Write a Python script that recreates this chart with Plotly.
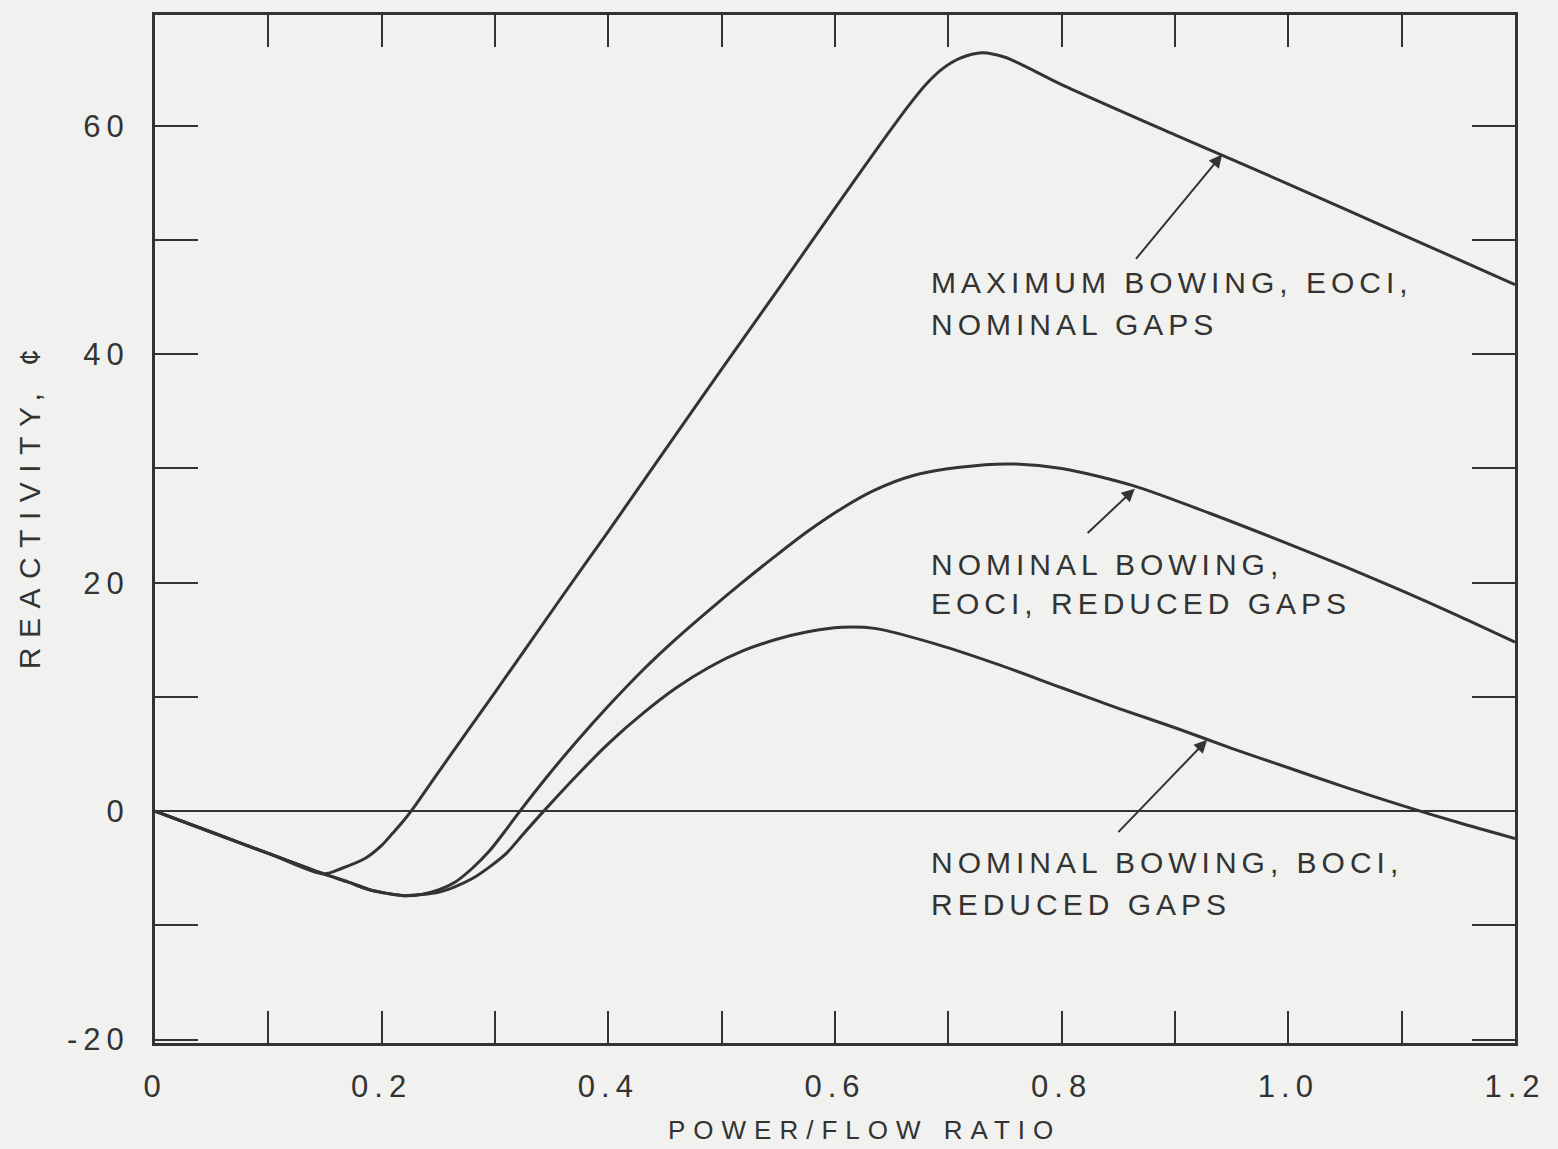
import plotly.graph_objects as go

# ---- data ----
max_bow_x = [0, 0.05, 0.10, 0.149, 0.165, 0.186, 0.20, 0.21, 0.218, 0.226, 0.25, 0.30, 0.36,
             0.40, 0.45, 0.50, 0.55, 0.60, 0.64, 0.666, 0.68, 0.695, 0.71, 0.73, 0.75, 0.77,
             0.80, 0.90, 1.00, 1.10, 1.20]
max_bow_y = [0, -1.85, -3.7, -5.5, -5.0, -4.1, -3.0, -1.9, -1.0, 0, 3.4, 10.4, 18.9,
             24.5, 31.6, 38.7, 45.7, 52.8, 58.4, 61.9, 63.6, 65.0, 65.9, 66.4, 66.0, 65.1,
             63.6, 59.2, 54.9, 50.5, 46.1]

eoci_x = [0, 0.05, 0.10, 0.149, 0.17, 0.19, 0.205, 0.22, 0.235, 0.25, 0.265, 0.28, 0.295, 0.31,
          0.322, 0.345, 0.372, 0.40, 0.431, 0.46, 0.489, 0.518, 0.547, 0.576, 0.606, 0.635,
          0.67, 0.71, 0.752, 0.80, 0.863, 0.93, 1.00, 1.05, 1.10, 1.15, 1.20]
eoci_y = [0, -1.85, -3.7, -5.5, -6.2, -6.9, -7.2, -7.4, -7.3, -6.9, -6.2, -5.0, -3.5, -1.6,
          0, 2.9, 6.1, 9.2, 12.4, 15.1, 17.6, 20.0, 22.3, 24.5, 26.5, 28.1,
          29.4, 30.1, 30.4, 30.0, 28.5, 26.1, 23.4, 21.4, 19.3, 17.1, 14.8]

boci_x = [0, 0.05, 0.10, 0.149, 0.17, 0.19, 0.205, 0.22, 0.235, 0.25, 0.265, 0.28, 0.295, 0.31,
          0.325, 0.343, 0.372, 0.401, 0.431, 0.46, 0.489, 0.518, 0.547, 0.576, 0.606, 0.635,
          0.69, 0.745, 0.80, 0.85, 0.90, 0.95, 1.00, 1.05, 1.10, 1.15, 1.20]
boci_y = [0, -1.85, -3.7, -5.5, -6.2, -6.9, -7.2, -7.4, -7.3, -7.1, -6.6, -5.9, -4.9, -3.7,
          -2.0, 0, 3.1, 6.0, 8.6, 10.8, 12.6, 14.0, 15.0, 15.7, 16.1, 16.0,
          14.6, 12.8, 10.8, 9.0, 7.3, 5.5, 3.8, 2.1, 0.5, -1.0, -2.4]

x_tick_vals = [0, 0.1, 0.2, 0.3, 0.4, 0.5, 0.6, 0.7, 0.8, 0.9, 1.0, 1.1, 1.2]
x_tick_text = ["0", "", "0.2", "", "0.4", "", "0.6", "", "0.8", "", "1.0", "", "1.2"]
y_tick_vals = [-20, -10, 0, 10, 20, 30, 40, 50, 60]
y_tick_text = ["-20", "", "0", "", "20", "", "40", "", "60"]

label_max = ["MAXIMUM BOWING, EOCI,", "NOMINAL GAPS"]
label_eoci = ["NOMINAL BOWING,", "EOCI, REDUCED GAPS"]
label_boci = ["NOMINAL BOWING, BOCI,", "REDUCED GAPS"]
x_title = "POWER/FLOW RATIO"
y_title = "REACTIVITY, ¢"

INK = "#333333"
TXT = "#333333"
BG = "#f1f1ef"
FONT = "Liberation Sans"


def spaced(s, px):
    return f'<span style="letter-spacing:{px}px">{s}</span>' if s else ""


fig = go.Figure()
for xs, ys in [(max_bow_x, max_bow_y), (eoci_x, eoci_y), (boci_x, boci_y)]:
    fig.add_trace(go.Scatter(x=xs, y=ys, mode="lines",
                             line=dict(color=INK, width=3, shape="spline", smoothing=0.8),
                             showlegend=False, hoverinfo="skip"))

axis_common = dict(showline=True, linecolor=INK, linewidth=3, mirror="ticks",
                   ticks="inside", tickcolor=INK, tickwidth=2, showgrid=False,
                   tickfont=dict(family=FONT, size=31, color=TXT), tickmode="array")

fig.update_xaxes(range=[0, 1.2], tickvals=x_tick_vals,
                 ticktext=[spaced(t, 6) for t in x_tick_text],
                 ticklen=32, zeroline=False, ticklabelstandoff=14, **axis_common)
fig.update_yaxes(range=[-20.3, 69.7], tickvals=y_tick_vals,
                 ticktext=[spaced(t, 6) for t in y_tick_text],
                 ticklen=43, zeroline=True, zerolinecolor=INK, zerolinewidth=2,
                 ticklabelstandoff=16, **axis_common)

ann = []
# curve labels, one annotation per text line
for lines, ys in [(label_max, (46.3, 42.6)), (label_eoci, (21.6, 18.2)),
                  (label_boci, (-4.5, -8.2))]:
    for line, yc in zip(lines, ys):
        ann.append(dict(x=0.683, y=yc, xref="x", yref="y", xanchor="left", yanchor="middle",
                        align="left", showarrow=False, text=spaced(line, 5),
                        font=dict(family=FONT, size=30, color=TXT)))
# arrows (head at x,y ; tail at ax,ay)
for hx, hy, tx, ty in [(0.9416, 57.48, 0.8645, 48.22),
                       (0.8645, 28.23, 0.8216, 24.22),
                       (0.9284, 6.24, 0.8487, -1.97)]:
    ann.append(dict(x=hx, y=hy, ax=tx, ay=ty, xref="x", yref="y", axref="x", ayref="y",
                    text="", showarrow=True, arrowhead=2, arrowsize=1.3, arrowwidth=2,
                    arrowcolor=INK, standoff=0))
# axis titles
ann.append(dict(x=0.5217, y=-0.0844, xref="paper", yref="paper", xanchor="center",
                yanchor="middle", showarrow=False, text=spaced(x_title, 8),
                font=dict(family=FONT, size=26, color=TXT)))
ann.append(dict(x=-0.0927, y=0.524, xref="paper", yref="paper", xanchor="center",
                yanchor="middle", showarrow=False, text=spaced(y_title, 9.5), textangle=-90,
                font=dict(family=FONT, size=30, color=TXT)))

fig.update_layout(width=1558, height=1149, autosize=False,
                  margin=dict(l=155, r=33, t=12, b=106),
                  paper_bgcolor=BG, plot_bgcolor=BG,
                  annotations=ann, showlegend=False,
                  font=dict(family=FONT, color=TXT))

fig.write_html("out.html",
               config={"displayModeBar": False},
               post_script="document.body.style.margin='0';"
                           "document.body.style.background='" + BG + "';"
                           "document.documentElement.style.overflow='hidden';")
